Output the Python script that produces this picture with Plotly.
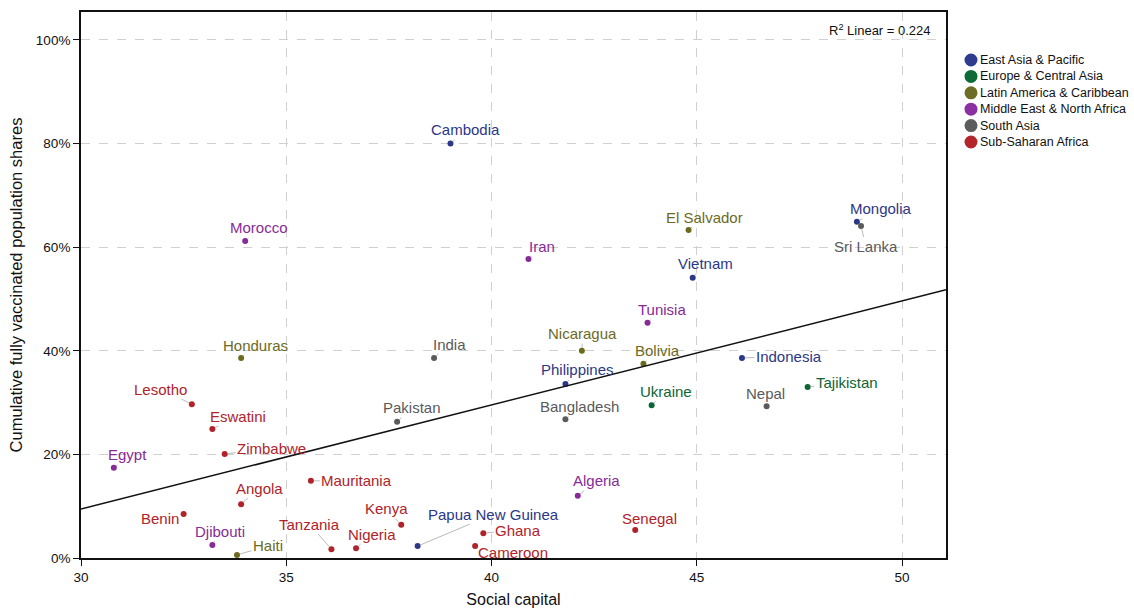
import numpy as np
import plotly.graph_objects as go

# Country-level observations
countries = ["Cambodia", "Morocco", "Iran", "El Salvador", "Mongolia", "Sri Lanka", "Vietnam",
             "Tunisia", "Honduras", "India", "Nicaragua", "Bolivia", "Indonesia", "Philippines",
             "Tajikistan", "Ukraine", "Nepal", "Bangladesh", "Pakistan", "Lesotho", "Eswatini",
             "Zimbabwe", "Egypt", "Mauritania", "Angola", "Algeria", "Benin", "Kenya", "Senegal",
             "Ghana", "Djibouti", "Papua New Guinea", "Tanzania", "Nigeria", "Cameroon", "Haiti"]
regions = ["EAP", "MENA", "MENA", "LAC", "EAP", "SA", "EAP",
           "MENA", "LAC", "SA", "LAC", "LAC", "EAP", "EAP",
           "ECA", "ECA", "SA", "SA", "SA", "SSA", "SSA",
           "SSA", "MENA", "SSA", "SSA", "MENA", "SSA", "SSA", "SSA",
           "SSA", "MENA", "EAP", "SSA", "SSA", "SSA", "LAC"]
social_capital = [39.0, 34.0, 40.9, 44.8, 48.9, 49.0, 44.9,
                  43.8, 33.9, 38.6, 42.2, 43.7, 46.1, 41.8,
                  47.7, 43.9, 46.7, 41.8, 37.7, 32.7, 33.2,
                  33.5, 30.8, 35.6, 33.9, 42.1, 32.5, 37.8, 43.5,
                  39.8, 33.2, 38.2, 36.1, 36.7, 39.6, 33.8]
vaccinated = [0.800, 0.612, 0.577, 0.633, 0.649, 0.641, 0.541,
              0.454, 0.386, 0.386, 0.400, 0.375, 0.386, 0.336,
              0.330, 0.295, 0.293, 0.268, 0.263, 0.297, 0.249,
              0.201, 0.174, 0.149, 0.104, 0.120, 0.085, 0.064, 0.054,
              0.048, 0.025, 0.023, 0.017, 0.019, 0.023, 0.006]

region_keys = ["EAP", "ECA", "LAC", "MENA", "SA", "SSA"]
region_names = {
    "EAP": "East Asia & Pacific",
    "ECA": "Europe & Central Asia",
    "LAC": "Latin America & Caribbean",
    "MENA": "Middle East & North Africa",
    "SA": "South Asia",
    "SSA": "Sub-Saharan Africa",
}
region_colors = {
    "EAP": "#2b3787",
    "ECA": "#0c6534",
    "LAC": "#6b6a1f",
    "MENA": "#862b98",
    "SA": "#5a5a5a",
    "SSA": "#b0232a",
}
legend_colors = {
    "EAP": "#2e3c90",
    "ECA": "#0f6a3a",
    "LAC": "#6d6d25",
    "MENA": "#8b30a3",
    "SA": "#5c5c5c",
    "SSA": "#b3242b",
}
r2_text = "R<sup>2</sup> Linear = 0.224"

FONT = "Liberation Sans, Arial, sans-serif"

# Label offsets (pixels from the marker to the label centre)
label_offsets = {
    "Cambodia": (15, -14), "Morocco": (14, -13), "Iran": (14, -13), "El Salvador": (16, -13),
    "Mongolia": (24, -13), "Sri Lanka": (5, 21), "Vietnam": (13, -14), "Tunisia": (14, -13),
    "Honduras": (14, -13), "India": (15, -14), "Nicaragua": (1, -17), "Bolivia": (14, -13),
    "Indonesia": (47, -2), "Philippines": (12, -14), "Tajikistan": (39, -5), "Ukraine": (14, -14),
    "Nepal": (-1, -13), "Bangladesh": (14, -13), "Pakistan": (15, -14), "Lesotho": (-31, -15),
    "Eswatini": (26, -13), "Zimbabwe": (47, -5), "Egypt": (14, -13), "Mauritania": (46, 0),
    "Angola": (18, -16), "Algeria": (19, -15), "Benin": (-24, 5), "Kenya": (-15, -16),
    "Senegal": (14, -12), "Ghana": (35, -3), "Djibouti": (8, -14), "Papua New Guinea": (76, -32),
    "Tanzania": (-22, -25), "Nigeria": (16, -14), "Cameroon": (38, 6), "Haiti": (31, -9),
}

fig = go.Figure()

# Points per region
for key in region_keys:
    idx = [i for i, r in enumerate(regions) if r == key]
    fig.add_trace(go.Scatter(
        x=[social_capital[i] for i in idx], y=[vaccinated[i] for i in idx],
        mode="markers", marker=dict(size=6, color=region_colors[key]),
        text=[countries[i] for i in idx], showlegend=False, name=region_names[key],
    ))

# Linear fit line across the axis range
x_min, x_max = 30, 51.07
slope, intercept = np.polyfit(social_capital, vaccinated, 1)
x_fit = np.array([x_min, x_max])
fig.add_trace(go.Scatter(x=x_fit, y=intercept + slope * x_fit, mode="lines",
                         line=dict(color="#111111", width=1.5), showlegend=False,
                         hoverinfo="skip"))

# Country labels with short leader lines
for i, c in enumerate(countries):
    ax, ay = label_offsets[c]
    fig.add_annotation(
        x=social_capital[i], y=vaccinated[i], text=c, showarrow=True,
        ax=ax, ay=ay, arrowhead=0, arrowwidth=0.8, arrowcolor="#a8a8a8", standoff=3,
        font=dict(family=FONT, size=15, color=region_colors[regions[i]]),
    )

fig.add_annotation(x=0.985, y=0.985, xref="paper", yref="paper", text=r2_text,
                   showarrow=False, xanchor="right", yanchor="top",
                   font=dict(family=FONT, size=13, color="#111"))

# Region legend drawn beside the plot: circle swatch + name
legend_x_px, legend_text_px = 890, 897   # offsets from the plot's left edge
legend_top_px, legend_step_px = 498, 16.4  # offsets from the plot's bottom edge
plot_w, plot_h = 1134 - 81 - 188, 612 - 12 - 54
for k, key in enumerate(region_keys):
    yp = (legend_top_px - k * legend_step_px) / plot_h
    fig.add_shape(type="circle", xref="paper", yref="paper", xsizemode="pixel",
                  ysizemode="pixel", xanchor=legend_x_px / plot_w, yanchor=yp,
                  x0=-6.5, x1=6.5, y0=-6.5, y1=6.5,
                  fillcolor=legend_colors[key], line=dict(width=0))
    fig.add_annotation(x=legend_text_px / plot_w, y=yp, xref="paper", yref="paper",
                       text=region_names[key], showarrow=False, xanchor="left",
                       yanchor="middle", font=dict(family=FONT, size=12.5, color="#111"))

grid = dict(showgrid=True, gridcolor="#d0d0d0", griddash="dash", gridwidth=1)
fig.update_xaxes(range=[x_min, x_max], tickvals=[30, 35, 40, 45, 50], ticks="outside",
                 ticklen=6, tickcolor="#111", showline=True, linecolor="#111", linewidth=1.5,
                 mirror=True, zeroline=False, automargin=False,
                 tickfont=dict(size=13.5, color="#111"),
                 title=dict(text="Social capital", standoff=10,
                            font=dict(size=16, color="#111")), **grid)
fig.update_yaxes(range=[0, 1.054], tickvals=[0, 0.2, 0.4, 0.6, 0.8, 1.0], tickformat=".0%",
                 ticks="outside", ticklen=6, tickcolor="#111", showline=True, linecolor="#111",
                 linewidth=1.8, mirror=True, zeroline=False, automargin=False,
                 tickfont=dict(size=13.5, color="#111"),
                 title=dict(text="Cumulative fully vaccinated population shares", standoff=9,
                            font=dict(size=16.5, color="#111")), **grid)

fig.update_layout(
    width=1134, height=612, margin=dict(l=81, r=188, t=12, b=54, autoexpand=False),
    paper_bgcolor="white", plot_bgcolor="white",
    font=dict(family=FONT, size=12, color="#222"),
    showlegend=False,
)

fig.write_html("out.html")
